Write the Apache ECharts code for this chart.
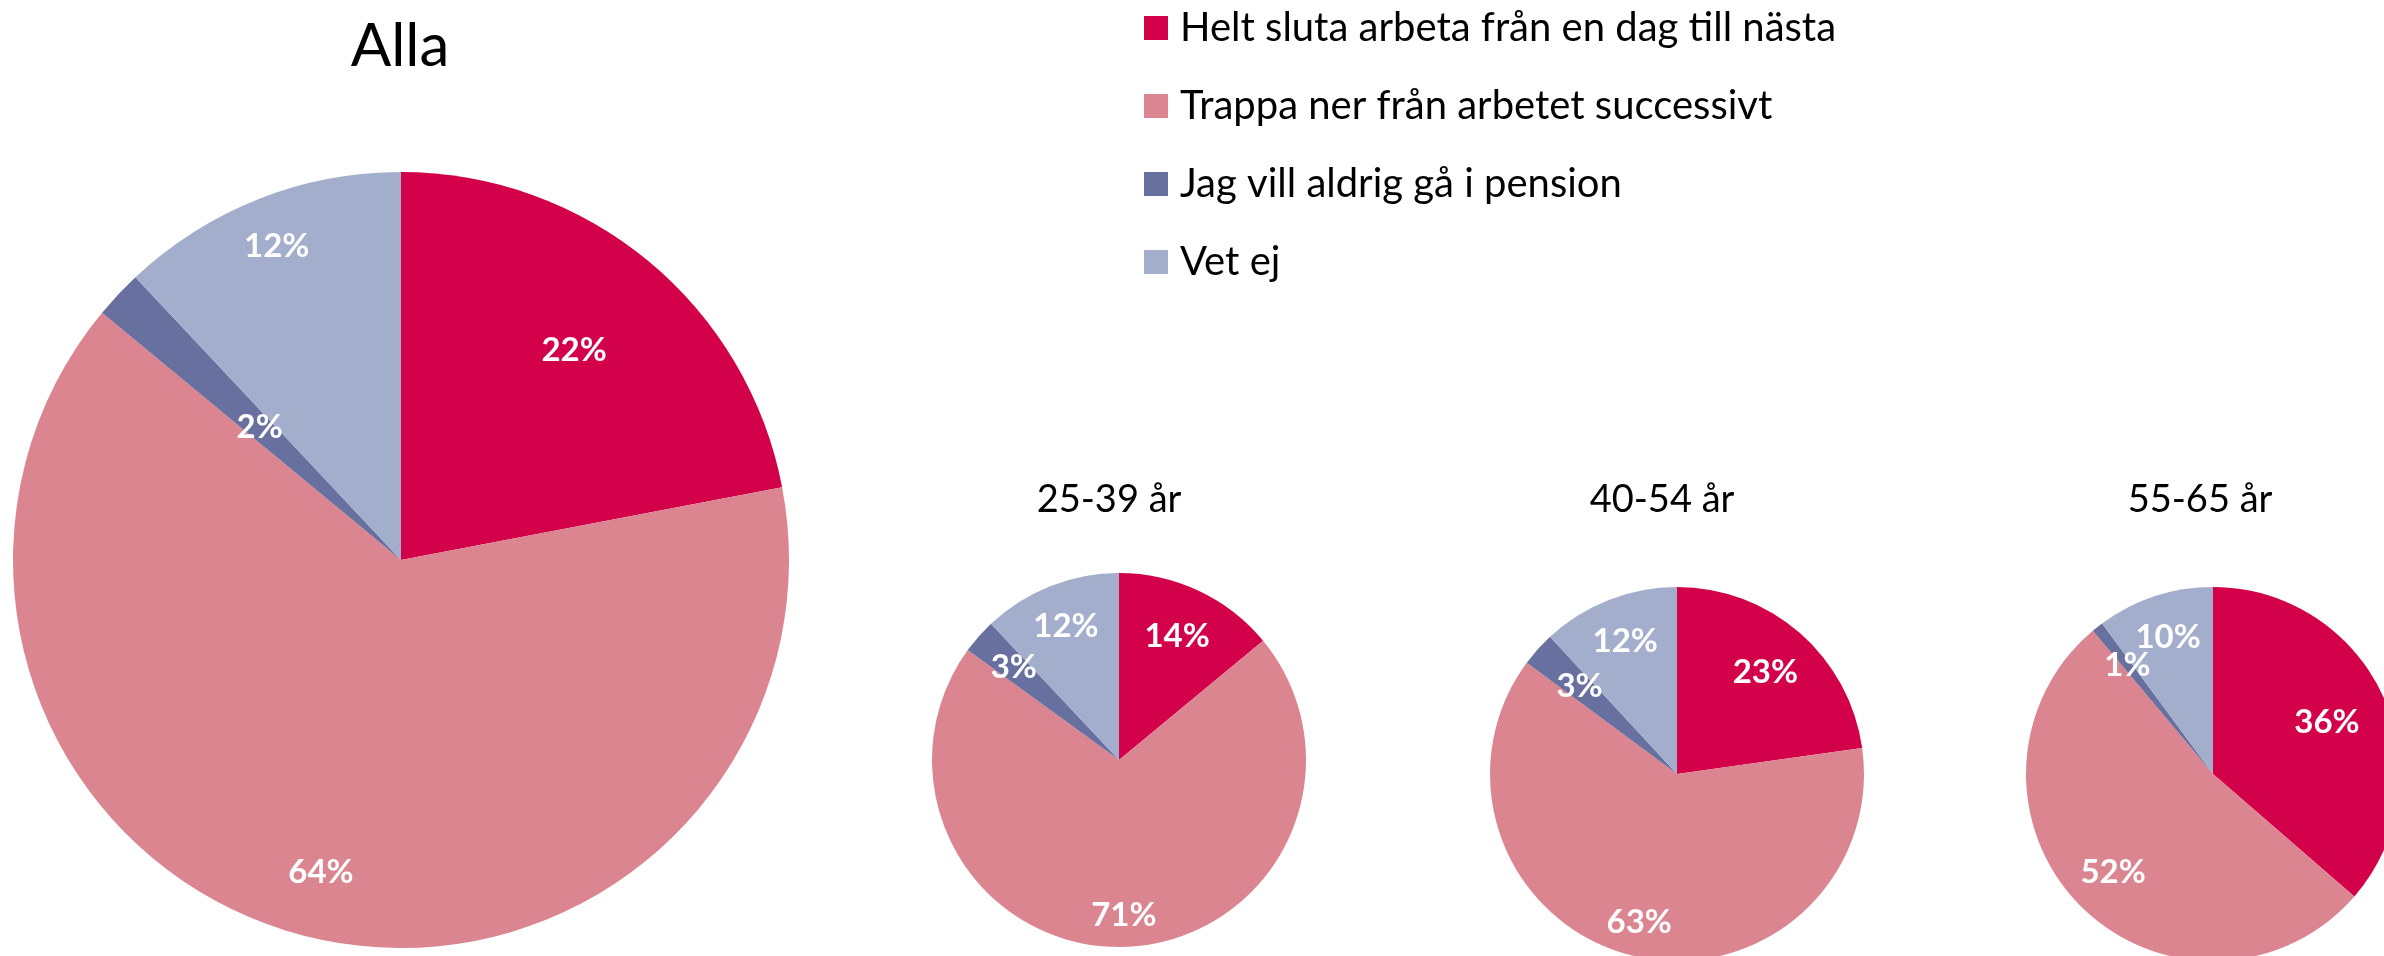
<!DOCTYPE html>
<html>
<head>
<meta charset="utf-8">
<title>Pension</title>
<script src="https://cdn.jsdelivr.net/npm/echarts@6/dist/echarts.min.js"></script>
<style>
  html, body { margin: 0; padding: 0; background: #fff; }
  #chart { width: 2384px; height: 956px; }
</style>
</head>
<body>
<div id="chart"></div>
<script>
// svarsalternativ
const categories = [
  'Helt sluta arbeta från en dag till nästa',
  'Trappa ner från arbetet successivt',
  'Jag vill aldrig gå i pension',
  'Vet ej'
]
const groups = ['Alla', '25-39 år', '40-54 år', '55-65 år']

// andelar i procent, per grupp
const alla = [22, 64, 2, 12]
const age25to39 = [14, 71, 3, 12]
const age40to54 = [23, 63, 3, 12]
const age55to65 = [36, 52, 1, 10]

const colors = ['#d3004a', '#db8590', '#67709e', '#a3aecd']

// layout (px)
const pies = [
  { values: alla, cx: 401, cy: 560, r: 388, titleTop: 12, titleSize: 60, labelDist: [0.70, 0.83, 0.50, 0.87] },
  { values: age25to39, cx: 1119, cy: 760, r: 187, titleTop: 476, titleSize: 38, labelDist: [0.73, 0.83, 0.75, 0.77] },
  { values: age40to54, cx: 1677, cy: 774, r: 187, titleTop: 476, titleSize: 38, labelDist: [0.72, 0.82, 0.70, 0.76] },
  { values: age55to65, cx: 2213, cy: 774, r: 187, titleTop: 476, titleSize: 38, labelDist: [0.67, 0.75, 0.74, 0.77] }
]
const titleX = [395, 1104, 1657, 2195]

const font = 'Lato, "Noto Sans", sans-serif'

// label position along the slice's middle angle
const labelPos = (pie, idx) => {
  const sum = pie.values.reduce((a, b) => a + b, 0)
  let cum = 0
  for (let i = 0; i < idx; i++) cum += pie.values[i]
  const a = 2 * Math.PI * (cum + pie.values[idx] / 2) / sum
  const d = pie.labelDist[idx] * pie.r
  return { x: pie.cx + d * Math.sin(a), y: pie.cy - d * Math.cos(a) }
}

const chart = echarts.init(document.getElementById('chart'))
chart.setOption({
  animation: false,
  color: colors,
  title: pies.map((p, i) => ({
    text: groups[i],
    left: titleX[i],
    top: p.titleTop,
    textAlign: 'center',
    textStyle: { fontFamily: font, fontSize: p.titleSize, fontWeight: 'normal', color: '#000' }
  })),
  legend: {
    orient: 'vertical',
    left: 1144,
    top: 8,
    padding: 0,
    icon: 'rect',
    itemWidth: 24,
    itemHeight: 24,
    itemGap: 38,
    selectedMode: false,
    data: categories,
    textStyle: {
      fontFamily: font,
      fontSize: 40,
      color: '#000',
      padding: [0, 0, 0, 7]
    }
  },
  series: pies.map((p) => ({
    type: 'pie',
    center: [p.cx, p.cy],
    radius: [0, p.r],
    startAngle: 90,
    clockwise: true,
    avoidLabelOverlap: false,
    emphasis: { disabled: true },
    itemStyle: { borderWidth: 0 },
    label: {
      show: true,
      position: 'inside',
      formatter: '{c}%',
      color: '#fff',
      fontFamily: font,
      fontSize: 33,
      fontWeight: 'bold'
    },
    labelLine: { show: false },
    labelLayout: (params) => {
      const pos = labelPos(p, params.dataIndex)
      return { x: pos.x, y: pos.y, align: 'center', verticalAlign: 'middle' }
    },
    data: categories.map((name, i) => ({ name, value: p.values[i] }))
  }))
})

window.addEventListener('resize', () => chart.resize())
</script>
</body>
</html>
